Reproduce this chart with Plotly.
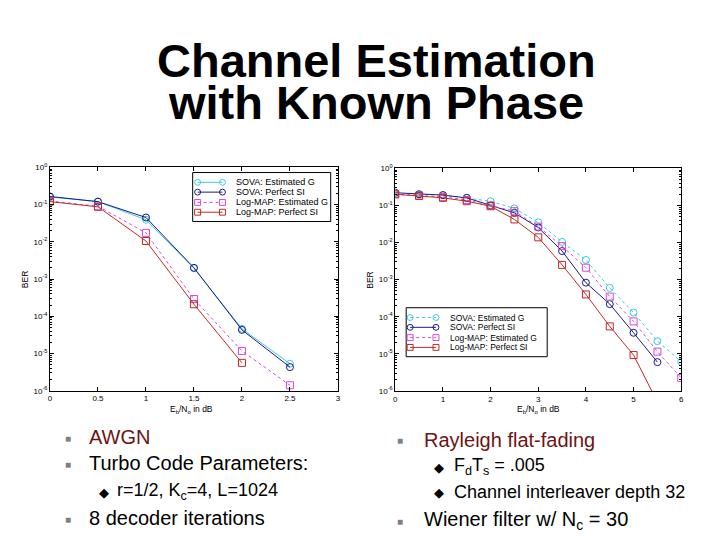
import plotly.graph_objects as go

W, H = 720, 540

# ---------------- data ----------------
# Left chart: AWGN
awgn_ebno = [0, 0.5, 1, 1.5, 2, 2.5]
awgn_sova_est = [0.16, 0.12, 0.039, 0.00195, 4.6e-5, 5.3e-6]
awgn_sova_perf = [0.165, 0.12, 0.045, 0.0020, 4.3e-5, 4.3e-6]
awgn_logmap_est = [0.125, 0.09, 0.0174, 2.9e-4, 1.17e-5, 1.4e-6]
awgn_logmap_perf_ebno = [0, 0.5, 1, 1.5, 2]
awgn_logmap_perf = [0.12, 0.087, 0.0105, 2.1e-4, 5.6e-6]

# Right chart: Rayleigh flat fading
ray_ebno = [0, 0.5, 1, 1.5, 2, 2.5, 3, 3.5, 4, 4.5, 5, 5.5, 6]
ray_sova_est = [0.2, 0.2, 0.19, 0.16, 0.13, 0.083, 0.035, 0.0104, 0.0034, 6e-4, 1.3e-4, 2.2e-5, 6.2e-6]
ray_sova_perf_ebno = [0, 0.5, 1, 1.5, 2, 2.5, 3, 3.5, 4, 4.5, 5, 5.5]
ray_sova_perf = [0.22, 0.2, 0.19, 0.16, 0.1, 0.063, 0.0255, 0.0059, 8.3e-4, 2.2e-4, 3.7e-5, 6e-6]
ray_logmap_est = [0.2, 0.185, 0.17, 0.14, 0.1, 0.07, 0.027, 0.008, 0.0021, 3.5e-4, 7.5e-5, 1.15e-5, 2.25e-6]
ray_logmap_perf_ebno = [0, 0.5, 1, 1.5, 2, 2.5, 3, 3.5, 4, 4.5, 5, 5.5]
ray_logmap_perf = [0.2, 0.18, 0.16, 0.13, 0.095, 0.042, 0.0138, 0.0025, 4e-4, 5.5e-5, 9.3e-6, 5e-7]

# tick labels
y_tickvals = [1, 1e-1, 1e-2, 1e-3, 1e-4, 1e-5, 1e-6]
y_ticktext = ["10<sup>0</sup>", "10<sup>-1</sup>", "10<sup>-2</sup>", "10<sup>-3</sup>",
              "10<sup>-4</sup>", "10<sup>-5</sup>", "10<sup>-6</sup>"]
y_minor = [m * 10.0 ** e for e in range(-6, 0) for m in range(2, 10)]
left_xtickvals = [0, 0.5, 1, 1.5, 2, 2.5, 3]
left_xticktext = ["0", "0.5", "1", "1.5", "2", "2.5", "3"]
right_xtickvals = [0, 1, 2, 3, 4, 5, 6]
right_xticktext = ["0", "1", "2", "3", "4", "5", "6"]

legend_labels = ["SOVA: Estimated G", "SOVA: Perfect SI", "Log-MAP: Estimated G", "Log-MAP: Perfect SI"]

title_lines = ["Channel Estimation", "with Known Phase"]
left_bullets = ["AWGN", "Turbo Code Parameters:", "r=1/2, K<sub>c</sub>=4, L=1024", "8 decoder iterations"]
right_bullets = ["Rayleigh flat-fading", "F<sub>d</sub>T<sub>s</sub> = .005",
                 "Channel interleaver depth 32", "Wiener filter w/ N<sub>c</sub> = 30"]

# ---------------- styles ----------------
CYAN = "#38cde0"
NAVY = "#1a1a86"
MAGENTA = "#d64ad6"
RED = "#c02a26"
DARKRED = "#6e1414"
FONT = "Arial, 'Liberation Sans', sans-serif"


def X(p):
    return p / W


def Y(p):
    return 1 - p / H


fig = go.Figure()

left_series = [
    (awgn_ebno, awgn_sova_est, CYAN, "solid", "circle-open"),
    (awgn_ebno, awgn_sova_perf, NAVY, "solid", "circle-open"),
    (awgn_ebno, awgn_logmap_est, MAGENTA, "dot", "square-open"),
    (awgn_logmap_perf_ebno, awgn_logmap_perf, RED, "solid", "square-open"),
]
right_series = [
    (ray_ebno, ray_sova_est, CYAN, "dot", "circle-open"),
    (ray_sova_perf_ebno, ray_sova_perf, NAVY, "solid", "circle-open"),
    (ray_ebno, ray_logmap_est, MAGENTA, "dot", "square-open"),
    (ray_logmap_perf_ebno, ray_logmap_perf, RED, "solid", "square-open"),
]

for (xs, ys, c, d, sym), name in zip(left_series, legend_labels):
    fig.add_trace(go.Scatter(x=xs, y=ys, mode="lines+markers", name=name, showlegend=False,
                             line=dict(color=c, width=1, dash=d),
                             marker=dict(symbol=sym, size=7, color=c, line=dict(width=1, color=c)),
                             xaxis="x", yaxis="y"))
for (xs, ys, c, d, sym), name in zip(right_series, legend_labels):
    fig.add_trace(go.Scatter(x=xs, y=ys, mode="lines+markers", name=name, showlegend=False,
                             line=dict(color=c, width=1, dash=d),
                             marker=dict(symbol=sym, size=7, color=c, line=dict(width=1, color=c)),
                             xaxis="x2", yaxis="y2"))

axis_common = dict(showline=True, linecolor="black", linewidth=1, mirror="ticks",
                   ticks="inside", ticklen=4, tickcolor="black", showgrid=False, zeroline=False,
                   tickfont=dict(family=FONT, size=8, color="black"))

yaxis_common = dict(axis_common, type="log", range=[-6, 0], tickmode="array",
                    tickvals=y_tickvals, ticktext=y_ticktext,
                    minor=dict(tickmode="array", tickvals=y_minor, ticks="inside", ticklen=2,
                               tickcolor="black", showgrid=False))

fig.update_layout(
    width=W, height=H,
    margin=dict(l=0, r=0, t=0, b=0),
    paper_bgcolor="white", plot_bgcolor="white",
    showlegend=False,
    xaxis=dict(axis_common, domain=[X(48.3), X(338.3)], range=[0, 3], tickmode="array",
               tickvals=left_xtickvals, ticktext=left_xticktext, anchor="y"),
    yaxis=dict(yaxis_common, domain=[Y(392.7), Y(164.7)], anchor="x"),
    xaxis2=dict(axis_common, domain=[X(396), X(684)], range=[0, 6], tickmode="array",
                tickvals=right_xtickvals, ticktext=right_xticktext, anchor="y2"),
    yaxis2=dict(yaxis_common, domain=[Y(393), Y(165.7)], anchor="x2"),
)

annotations = []
shapes = []


def text(x, y, s, size, color="black", anchor="left", bold=False, angle=0, family=FONT):
    annotations.append(dict(x=X(x), y=Y(y), xref="paper", yref="paper", text=s, showarrow=False,
                            xanchor=anchor, yanchor="middle", textangle=angle,
                            font=dict(family=family, size=size, color=color,
                                      weight="bold" if bold else "normal")))


# title
text(377, 56, title_lines[0], 47, anchor="center", bold=True)
text(377, 99, title_lines[1], 47, anchor="center", bold=True)

# axis titles
text(23, 279, "BER", 8.5, anchor="center", angle=-90)
text(371, 280, "BER", 8.5, anchor="center", angle=-90)
text(191, 412, "E<sub>b</sub>/N<sub>o</sub> in dB", 8.5, anchor="center")
text(540, 412, "E<sub>b</sub>/N<sub>o</sub> in dB", 8.5, anchor="center")


# manual legends (MATLAB style)
def legend(box, rows, lx0, lx1, tx, styles, fsize):
    x0, y0, x1, y1 = box
    shapes.append(dict(type="rect", xref="paper", yref="paper", x0=X(x0), x1=X(x1), y0=Y(y1), y1=Y(y0),
                       line=dict(color="black", width=1), fillcolor="white", layer="above"))
    for ry, (xs, ys, c, d, sym), lab in zip(rows, styles, legend_labels):
        shapes.append(dict(type="line", xref="paper", yref="paper", x0=X(lx0), x1=X(lx1), y0=Y(ry), y1=Y(ry),
                           line=dict(color=c, width=1, dash=d), layer="above"))
        for mx in (lx0, lx1):
            shapes.append(dict(type="circle" if sym.startswith("circle") else "rect",
                               xref="paper", yref="paper", x0=X(mx - 3), x1=X(mx + 3),
                               y0=Y(ry + 3), y1=Y(ry - 3), line=dict(color=c, width=1),
                               fillcolor="rgba(0,0,0,0)", layer="above"))
        text(tx, ry, lab, fsize)


legend((192, 170, 331, 220), [180, 190, 200.5, 210.5], 197, 222, 234, left_series, 9)
legend((407, 308, 549, 358), [318, 328, 338.5, 348.5], 411, 437, 449, right_series, 8.5)

# bullets (left)
BUL = "#808080"
text(66, 441, "■", 10, color=BUL, anchor="center")
text(86, 440, left_bullets[0], 20, color=DARKRED)
text(66, 468, "■", 10, color=BUL, anchor="center")
text(86, 467, left_bullets[1], 20)
text(103, 497, "◆", 13, anchor="center")
text(114, 496, left_bullets[2], 18)
text(66, 524, "■", 10, color=BUL, anchor="center")
text(86, 523, left_bullets[3], 20)

# bullets (right)
text(401, 444, "■", 10, color=BUL, anchor="center")
text(423, 443, right_bullets[0], 20, color=DARKRED)
text(440, 471, "◆", 13, anchor="center")
text(453, 470, right_bullets[1], 18)
text(440, 497, "◆", 13, anchor="center")
text(453, 496, right_bullets[2], 18)
text(401, 526, "■", 10, color=BUL, anchor="center")
text(423, 525, right_bullets[3], 20)

fig.update_layout(annotations=annotations, shapes=shapes)
fig.write_html("out.html", config={"displayModeBar": False},
               post_script="document.body.style.margin='0';")
